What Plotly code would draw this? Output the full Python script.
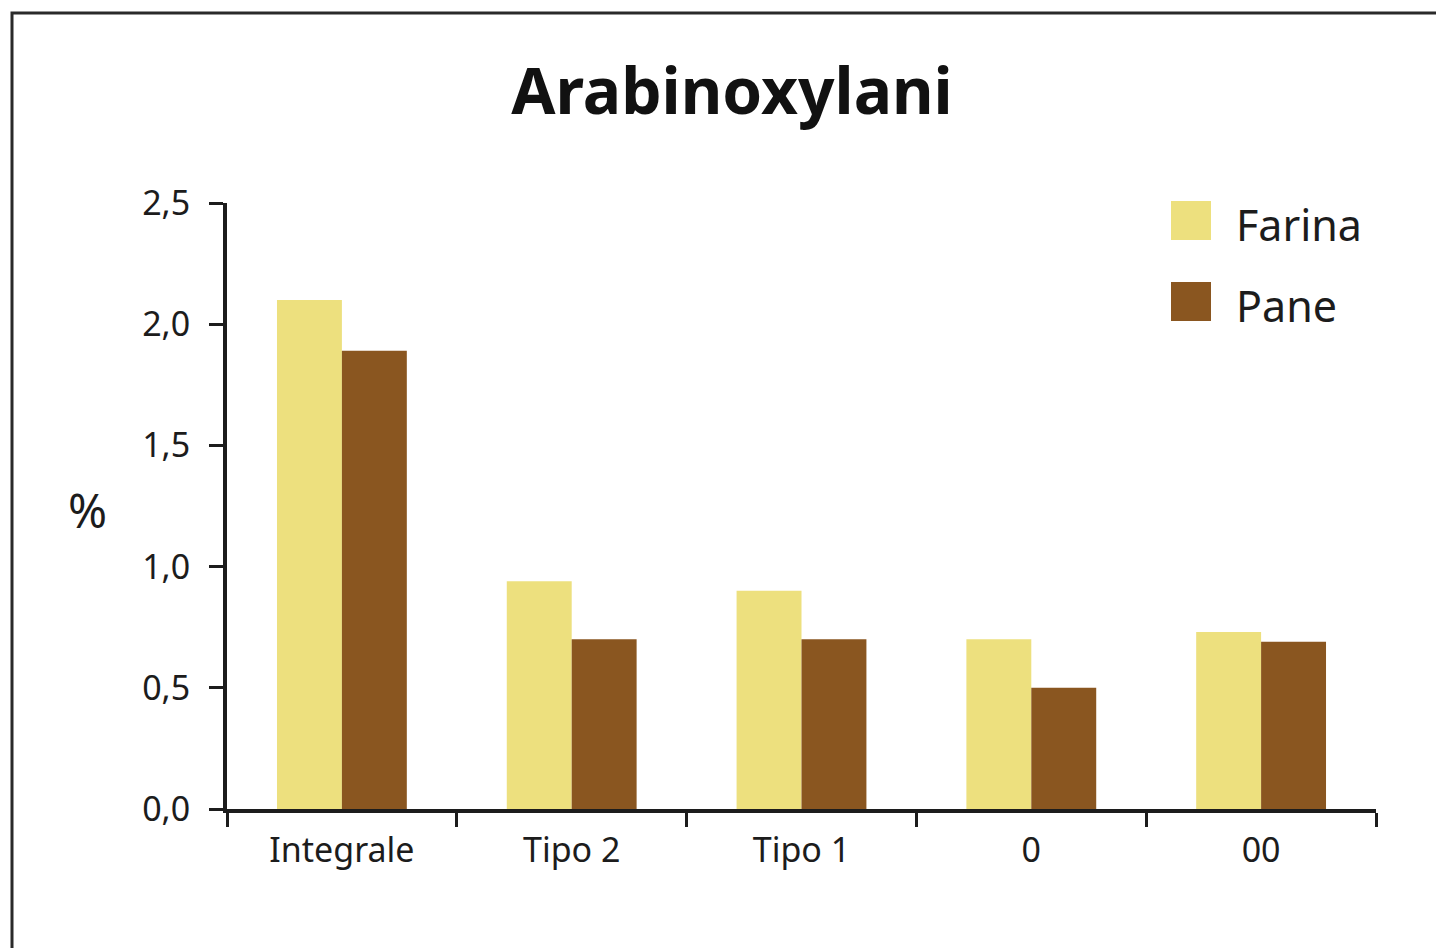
import plotly.graph_objects as go

# Arabinoxylan content (%) in flour and bread by flour grade
categories = ["Integrale", "Tipo 2", "Tipo 1", "0", "00"]
farina = [2.10, 0.94, 0.90, 0.70, 0.73]
pane = [1.89, 0.70, 0.70, 0.50, 0.69]
series_names = ["Farina", "Pane"]
y_ticks = [0, 0.5, 1.0, 1.5, 2.0, 2.5]

COL_FARINA = "#EDE07E"
COL_PANE = "#8A5620"
INK = "#1c1c1c"
FONT = "Noto Sans"

W, H = 1436, 948
L, R, T, B = 227, 60, 203, 139
PW, PH = W - L - R, H - T - B


def px(x):
    return (x - L) / PW


def py(y):
    return (H - B - y) / PH


fig = go.Figure()
fig.add_bar(x=categories, y=farina, name=series_names[0],
            marker=dict(color=COL_FARINA, line=dict(width=0)), showlegend=False)
fig.add_bar(x=categories, y=pane, name=series_names[1],
            marker=dict(color=COL_PANE, line=dict(width=0)), showlegend=False)

shapes = [
    # outer frame
    dict(type="rect", xref="paper", yref="paper",
         x0=px(12), x1=px(1445), y0=py(13), y1=py(960),
         line=dict(color="#2a2a2a", width=3), fillcolor="rgba(0,0,0,0)", layer="below"),
    # legend swatches
    dict(type="rect", xref="paper", yref="paper",
         x0=px(1171), x1=px(1211), y0=py(201), y1=py(240),
         line=dict(width=0), fillcolor=COL_FARINA),
    dict(type="rect", xref="paper", yref="paper",
         x0=px(1171), x1=px(1211), y0=py(282), y1=py(321),
         line=dict(width=0), fillcolor=COL_PANE),
]

annotations = [
    dict(text=series_names[0], xref="paper", yref="paper", x=px(1234), y=py(224),
         xanchor="left", yanchor="middle", showarrow=False,
         font=dict(family=FONT, size=43, color=INK)),
    dict(text=series_names[1], xref="paper", yref="paper", x=px(1234), y=py(305),
         xanchor="left", yanchor="middle", showarrow=False,
         font=dict(family=FONT, size=43, color=INK)),
    dict(text="%", xref="paper", yref="paper", x=px(87), y=py(510),
         xanchor="center", yanchor="middle", showarrow=False,
         font=dict(family=FONT, size=47, color=INK)),
]

fig.update_layout(
    width=W, height=H,
    margin=dict(l=L, r=R, t=T, b=B, pad=0),
    paper_bgcolor="white", plot_bgcolor="white",
    barmode="group", bargap=0.435, bargroupgap=0,
    separators=",.",
    title=dict(text="<b>Arabinoxylani</b>", xref="container", yref="container",
               x=732 / W, y=1 - 92 / H, xanchor="center", yanchor="middle",
               font=dict(family=FONT, size=64, color="#111111")),
    shapes=shapes, annotations=annotations,
    font=dict(family=FONT, color=INK),
)

fig.update_xaxes(
    type="category", range=[-0.5, len(categories) - 0.5],
    showline=True, linewidth=4, linecolor=INK,
    ticks="outside", ticklen=14, tickwidth=3, tickcolor=INK, tickson="boundaries",
    showgrid=False, zeroline=False,
    tickfont=dict(family=FONT, size=34, color=INK), ticklabelstandoff=8,
)
fig.update_yaxes(
    range=[0, 2.5], tickvals=y_ticks, tickformat=".1f",
    showline=True, linewidth=4, linecolor=INK,
    ticks="outside", ticklen=14, tickwidth=3, tickcolor=INK,
    showgrid=False, zeroline=False,
    tickfont=dict(family=FONT, size=34, color=INK), ticklabelstandoff=12,
)

fig.write_html("out.html")
